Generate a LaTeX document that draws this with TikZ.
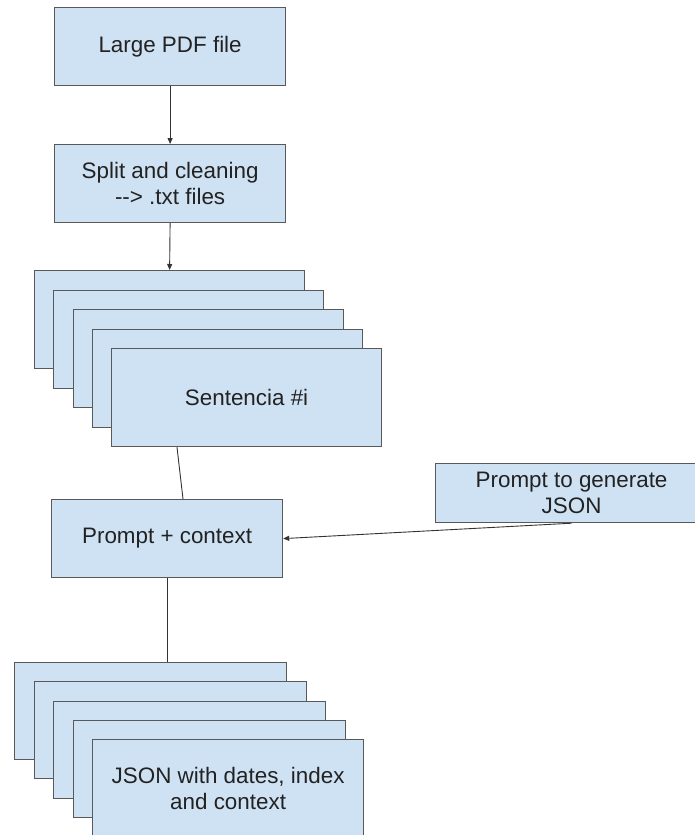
\documentclass[tikz,border=0pt]{standalone}
\usepackage{fontspec}
\setmainfont{Liberation Sans}
\usetikzlibrary{arrows.meta}

\definecolor{boxfill}{HTML}{CFE2F3}
\definecolor{boxline}{HTML}{595959}
\definecolor{textgray}{HTML}{222222}

\begin{document}
\begin{tikzpicture}[
    x=1pt,
    y=-1pt,
    block/.style={
        draw=boxline,
        fill=boxfill,
        line width=1.2pt,
        anchor=north west,
        inner sep=0pt,
        align=center,
        text=textgray,
        font=\fontsize{22.4}{26}\selectfont
    },
    sheet/.style={
        block,
        minimum width=270pt,
        minimum height=98pt
    },
    link/.style={
        -{Triangle[length=6pt,width=5pt]},
        line width=0.9pt,
        draw=black!80
    },
    plain link/.style={
        -,
        line width=0.9pt,
        draw=black!80
    }
]
\useasboundingbox (0,0) rectangle (695,835);
\clip (0,0) rectangle (695,835);

\node[block, minimum width=231pt, minimum height=78pt] (pdf) at (54,7) {Large PDF file};

\node[block, minimum width=231pt, minimum height=78pt] (split) at (54,144) {
    Split and cleaning\\
    {-}{-}> .txt files
};

% stack of sentencias
\foreach \k in {0,...,3}
    \node[sheet] (sent\k) at ({34+19.25*\k},{270+19.5*\k}) {};
\node[sheet] (sent4) at (111,348) {Sentencia \#i};

\node[block, minimum width=231pt, minimum height=78pt] (ctx) at (51,499) {Prompt + context};

\node[block, minimum width=272pt, minimum height=59pt] (gen) at (435,463) {
    Prompt to generate\\
    JSON
};

% stack of json outputs
\foreach \k in {0,...,3}
    \node[sheet, minimum width=272pt, minimum height=97pt] (json\k) at ({14+19.5*\k},{662+19.25*\k}) {};
\node[sheet, minimum width=271pt, minimum height=97pt] (json4) at (92,739) {
    JSON with dates, index\\
    and context
};

\draw[link] (pdf.south) -- (split.north);
\draw[link] (split.south) -- (sent0.north);
\draw[plain link] ([xshift=66pt]sent4.south west) -- ([xshift=132pt]ctx.north west);
\draw[plain link] (ctx.south) -- (ctx.south |- json0.north);
\draw[link] (gen.south) -- (ctx.east);

\end{tikzpicture}
\end{document}
